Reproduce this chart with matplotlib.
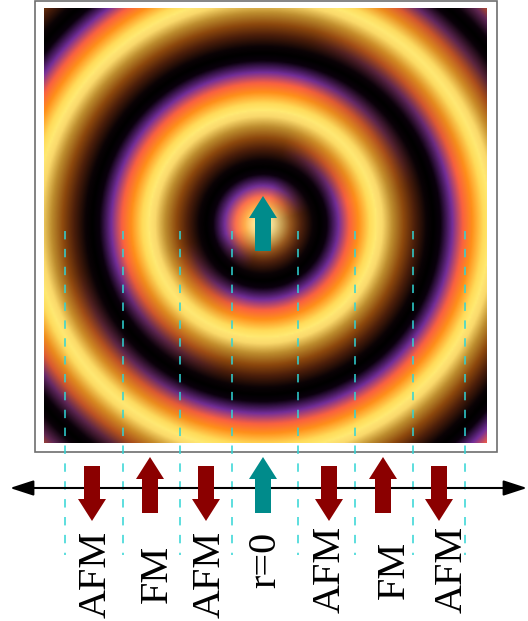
import numpy as np
import matplotlib
matplotlib.use("Agg")
import matplotlib.pyplot as plt
from matplotlib.colors import LinearSegmentedColormap
from matplotlib.patches import Rectangle

# ring field (pixel units of the figure)
ring_center = (263, 224)
ring_period = 114
image_box = (44, 487, 443, 8)          # left, right, bottom, top
light_dir = np.array([1.0, 1.0]) / np.sqrt(2)

# spin chain below the picture
spin_x = [92, 150, 206, 263, 329, 383, 439]
spin_up = [False, True, False, True, False, True, False]
spin_color = ["#8b0000", "#8b0000", "#8b0000", "#008b8b", "#8b0000", "#8b0000", "#8b0000"]
labels = ["AFM", "FM", "AFM", "r=0", "AFM", "FM", "AFM"]
label_x = [96, 157, 210, 266, 330, 394, 452]
label_y = [574, 574, 574, 560, 569, 570, 569]
boundary_x = [65.3, 122.7, 180, 232.3, 298.3, 355.3, 412.7, 465.3]

lit_cmap = LinearSegmentedColormap.from_list("lit", [
    (0.00, (0.0, 0.0, 0.0)),
    (0.12, (0.04, 0.0, 0.05)),
    (0.33, (0.45, 0.18, 0.60)),
    (0.52, (0.98, 0.38, 0.25)),
    (0.68, (1.00, 0.56, 0.10)),
    (0.88, (1.00, 0.86, 0.35)),
    (1.00, (1.00, 0.92, 0.45)),
])
shade_cmap = LinearSegmentedColormap.from_list("shade", [
    (0.00, (0.0, 0.0, 0.0)),
    (0.12, (0.04, 0.01, 0.02)),
    (0.33, (0.30, 0.12, 0.04)),
    (0.52, (0.55, 0.28, 0.05)),
    (0.72, (0.74, 0.55, 0.18)),
    (0.90, (0.98, 0.85, 0.42)),
    (1.00, (1.00, 0.90, 0.45)),
])

W, H = 528, 621
fig = plt.figure(figsize=(W / 100, H / 100), dpi=100)
ax = fig.add_axes([0, 0, 1, 1])
ax.set_xlim(0, W)
ax.set_ylim(H, 0)
ax.axis("off")

# shaded ring image
x = np.linspace(image_box[0], image_box[1], 300)
y = np.linspace(image_box[3], image_box[2], 300)
X, Y = np.meshgrid(x, y)
dx, dy = X - ring_center[0], Y - ring_center[1]
r = np.hypot(dx, dy) + 1e-9
phase = (r / ring_period) % 1.0
val = np.abs(1 - 2 * phase)               # 1 = bright ring, 0 = dark ring
slope = np.where(phase < 0.5, -1.0, 1.0)  # sign of d(val)/dr
s = slope * (dx / r * light_dir[0] + dy / r * light_dir[1])
w = 0.5 + 0.5 * np.clip(2.0 * s, -1, 1)
rgb = w[..., None] * lit_cmap(val)[..., :3] + (1 - w[..., None]) * shade_cmap(val)[..., :3]
# bright spot in the middle
glow = np.exp(-(r / 20) ** 2)[..., None] * 0.65
rgb = rgb * (1 - glow) + glow * np.array([1.0, 0.97, 0.8])
ax.imshow(rgb, extent=image_box, interpolation="bilinear", zorder=1)

ax.add_patch(Rectangle((35, 1), 462, 451, fill=False, edgecolor="#6e6e6e", lw=1.2, zorder=2))

for bx in boundary_x:
    ax.plot([bx, bx], [231, 555], color="#30d5d5", lw=1.1,
            linestyle=(0, (5.5, 6.2)), zorder=3)

# horizontal axis
ax.annotate("", xy=(527, 488), xytext=(10, 488),
            arrowprops=dict(arrowstyle="<|-|>,head_length=0.4,head_width=0.13",
                            color="black", lw=1.5, mutation_scale=36,
                            shrinkA=0, shrinkB=0), zorder=4)


def spin(xc, up, color, top, bottom):
    if up:
        ax.arrow(xc, bottom, 0, top - bottom, width=16, head_width=28, head_length=22,
                 length_includes_head=True, color=color, lw=0, zorder=5)
    else:
        ax.arrow(xc, top, 0, bottom - top, width=16, head_width=28, head_length=22,
                 length_includes_head=True, color=color, lw=0, zorder=5)


for xc, up, col in zip(spin_x, spin_up, spin_color):
    if up:
        spin(xc, True, col, 457, 513)
    else:
        spin(xc, False, col, 466, 521)

# central spin inside the picture
spin(ring_center[0], True, "#008b8b", 196, 251)

for lx, ly, t in zip(label_x, label_y, labels):
    ax.text(lx, ly, t, rotation=90, ha="center", va="center",
            fontsize=29, family="Liberation Serif", zorder=6)

fig.savefig("out.png", dpi=100)
